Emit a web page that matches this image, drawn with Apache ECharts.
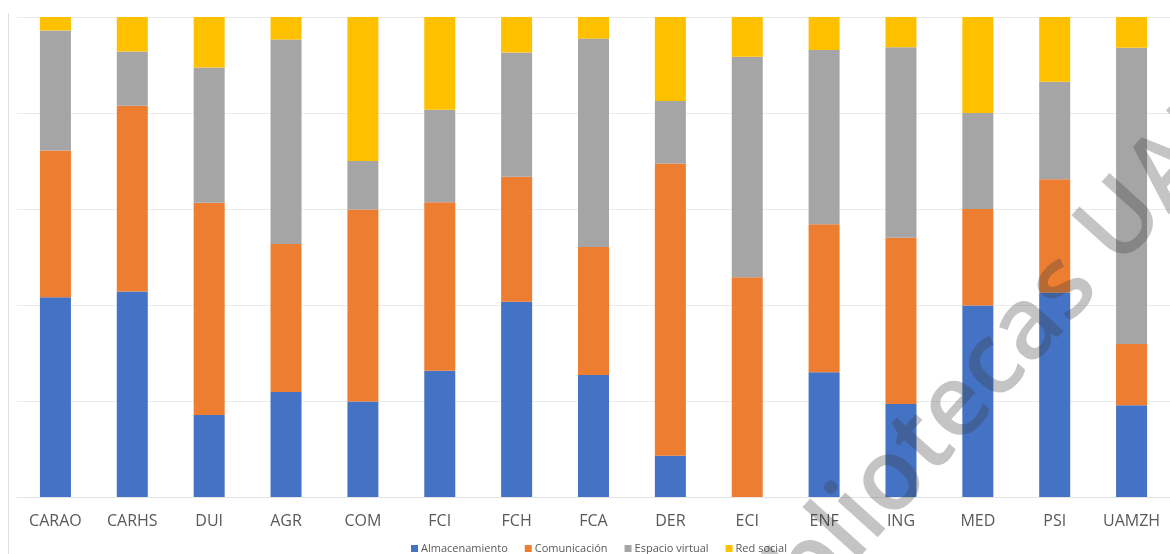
<!DOCTYPE html>
<html>
<head>
<meta charset="utf-8">
<script src="https://cdn.jsdelivr.net/npm/echarts@6/dist/echarts.min.js"></script>
<style>
  html, body { margin: 0; padding: 0; background: #ffffff; }
  #chart { width: 1170px; height: 554px; }
</style>
</head>
<body>
<div id="chart"></div>
<script>
// Percentage share of each resource type by academic unit
const categories = ['CARAO', 'CARHS', 'DUI', 'AGR', 'COM', 'FCI', 'FCH', 'FCA', 'DER', 'ECI', 'ENF', 'ING', 'MED', 'PSI', 'UAMZH'];
const almacenamiento = [41.6, 42.8, 17.1, 21.9, 19.9, 26.3, 40.7, 25.4, 8.6, 0, 26.0, 19.4, 39.9, 42.6, 19.1];
const comunicacion   = [30.6, 38.7, 44.2, 30.8, 40.0, 35.1, 26.0, 26.7, 60.9, 45.8, 30.8, 34.6, 20.1, 23.6, 12.8];
const espacioVirtual = [25.0, 11.3, 28.2, 42.6, 10.1, 19.3, 25.9, 43.4, 13.0, 45.9, 36.3, 39.7, 20.0, 20.3, 61.7];
const redSocial      = [2.8, 7.2, 10.5, 4.7, 30.0, 19.3, 7.4, 4.5, 17.5, 8.3, 6.9, 6.3, 20.0, 13.5, 6.4];
const seriesNames = ['Almacenamiento', 'Comunicación', 'Espacio virtual', 'Red social'];
const seriesData = [almacenamiento, comunicacion, espacioVirtual, redSocial];
const colors = ['#4472C4', '#ED7D31', '#A5A5A5', '#FFC000'];

const chart = echarts.init(document.getElementById('chart'), null, { renderer: 'canvas' });

chart.setOption({
  animation: false,
  backgroundColor: '#ffffff',
  color: colors,
  grid: { left: 17, top: 17, width: 1155, bottom: 57, containLabel: false },
  legend: {
    data: seriesNames,
    left: 406,
    top: 538,
    itemWidth: 7,
    itemHeight: 7,
    itemGap: 17,
    icon: 'rect',
    textStyle: { fontFamily: 'Open Sans', fontSize: 11, color: '#595959', padding: [0, 0, 0, -2] }
  },
  xAxis: {
    type: 'category',
    data: categories,
    axisLine: { show: true, lineStyle: { color: '#e4e4e4', width: 1 } },
    axisTick: { show: false },
    axisLabel: { fontFamily: 'Open Sans', fontSize: 16, color: '#595959', margin: 16 }
  },
  yAxis: {
    type: 'value',
    min: 0,
    max: 100,
    interval: 20,
    axisLine: { show: false },
    axisTick: { show: false },
    axisLabel: { show: false },
    splitLine: { lineStyle: { color: '#ebebeb', width: 1 } }
  },
  series: seriesNames.map((name, i) => ({
    name: name,
    type: 'bar',
    stack: 'total',
    barWidth: 31,
    data: seriesData[i],
    itemStyle: { color: colors[i] }
  })),
  graphic: [
    {
      type: 'line',
      shape: { x1: 8.5, y1: 13, x2: 8.5, y2: 554 },
      style: { stroke: '#e0e0e0', lineWidth: 1 },
      silent: true
    },
    {
      // diagonal library watermark
      type: 'text',
      x: 728,
      y: 661,
      rotation: 48 * Math.PI / 180,
      z: 100,
      silent: true,
      style: {
        text: 'Bibliotecas UAM',
        font: '600 100px "Open Sans"',
        fill: 'rgba(60,60,60,0.30)',
        textAlign: 'left',
        textVerticalAlign: 'middle'
      }
    }
  ]
});
</script>
</body>
</html>
